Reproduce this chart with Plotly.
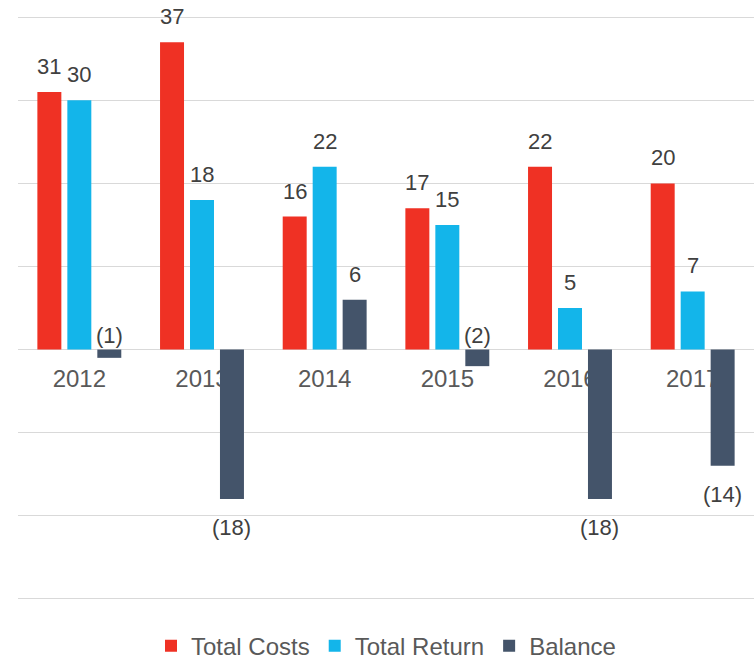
import plotly.graph_objects as go

years = ["2012", "2013", "2014", "2015", "2016", "2017"]
total_costs = [31, 37, 16, 17, 22, 20]
total_return = [30, 18, 22, 15, 5, 7]
balance = [-1, -18, 6, -2, -18, -14]

series_names = ["Total Costs", "Total Return", "Balance"]
series_colors = ["#EF3124", "#13B5EA", "#44546A"]
series_values = [total_costs, total_return, balance]

y_min, y_max = -30, 40
pad = 0.15

FONT = "Liberation Sans, Arial, sans-serif"
LABEL_COLOR = "#404040"
AXIS_COLOR = "#595959"

fig = go.Figure()
for name, color, vals in zip(series_names, series_colors, series_values):
    fig.add_trace(go.Bar(
        x=years, y=vals, name=name,
        marker=dict(color=color, line=dict(width=0)),
        offsetgroup=name,
    ))

def fmt(v):
    return f"({abs(v)})" if v < 0 else str(v)

# data labels positioned from the data values
n_series = len(series_values)
bargap = 0.267
slot = (1 - bargap) / n_series
annotations = []
for si, vals in enumerate(series_values):
    off = -(1 - bargap) / 2 + slot * (si + 0.5)
    for ci, v in enumerate(vals):
        xpos = ci + off
        if v >= 0:
            annotations.append(dict(x=xpos, y=v, yanchor="bottom", yshift=11,
                                    text=fmt(v)))
        elif abs(v) <= 2:
            annotations.append(dict(x=xpos, y=0, yanchor="bottom", yshift=0,
                                    text=fmt(v)))
        else:
            annotations.append(dict(x=xpos, y=v, yanchor="top", yshift=-14,
                                    text=fmt(v)))
for a in annotations:
    a.update(xref="x", yref="y", showarrow=False, xanchor="center",
             font=dict(family=FONT, size=22, color=LABEL_COLOR))

lo, hi = y_min - pad, y_max + pad
fig.update_layout(
    width=754, height=661,
    margin=dict(l=18, r=0, t=16, b=61, autoexpand=False),
    paper_bgcolor="white", plot_bgcolor="white",
    barmode="group", bargap=bargap, bargroupgap=0.2,
    font=dict(family=FONT, color=AXIS_COLOR),
    showlegend=True,
    legend=dict(orientation="h", x=0.5, xanchor="center", y=-0.079,
                yanchor="middle", font=dict(family=FONT, size=24, color=AXIS_COLOR),
                itemwidth=30, traceorder="normal"),
    annotations=annotations,
)
fig.update_yaxes(range=[lo, hi], dtick=10, tick0=0, showticklabels=False,
                 showgrid=True, gridcolor="#D9D9D9", gridwidth=1.3,
                 zeroline=True, zerolinecolor="#D9D9D9", zerolinewidth=1.3,
                 showline=False, fixedrange=True, automargin=False)
fig.update_xaxes(type="category", anchor="free",
                 position=(0 - lo) / (hi - lo),
                 showgrid=False, zeroline=False, showline=False, ticks="",
                 layer="below traces", automargin=False,
                 tickfont=dict(family=FONT, size=24, color=AXIS_COLOR),
                 ticklabelstandoff=12, fixedrange=True)

fig.write_html("out.html", config={"displayModeBar": False},
               post_script="document.body.style.margin='0';")
